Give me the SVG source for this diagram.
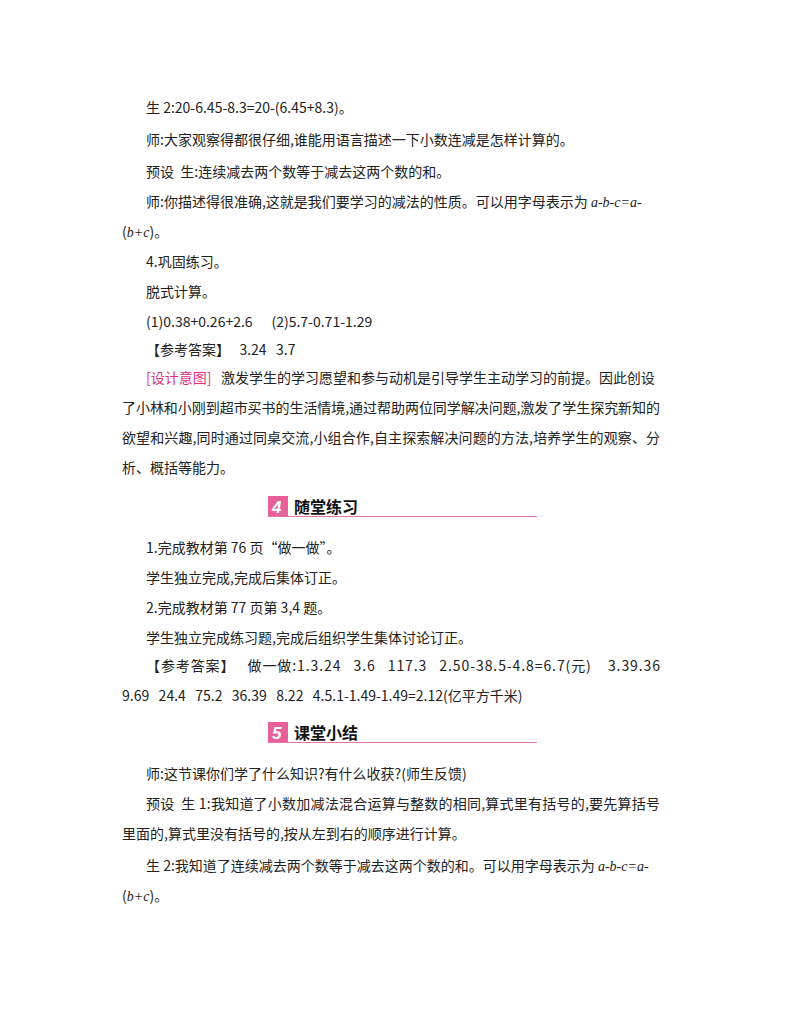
<svg xmlns="http://www.w3.org/2000/svg" width="800" height="1028" viewBox="0 0 800 1028" xml:space="preserve">
<style>
text{font-family:"Noto Sans CJK SC","Liberation Serif",serif;font-size:14px;fill:#222;white-space:pre}
.i{font-family:"Liberation Serif",serif;font-style:italic}
.p{fill:#e0307a}
.h{font-size:16px;font-weight:bold;fill:#111}
.n{font-family:"Liberation Sans",sans-serif;font-size:17px;font-weight:bold;font-style:italic;fill:#fff}
</style>
<rect width="800" height="1028" fill="#fff"/>
<g id="body1">
<text x="146" y="113">生 2:20-6.45-8.3=20-(6.45+8.3)。</text>
<text x="146" y="145">师:大家观察得都很仔细,谁能用语言描述一下小数连减是怎样计算的。</text>
<text x="146" y="177">预设  生:连续减去两个数等于减去这两个数的和。</text>
<text x="146" y="207">师:你描述得很准确,这就是我们要学习的减法的性质。可以用字母表示为 <tspan class="i">a-b-c=a-</tspan></text>
<text x="122" y="237">(<tspan class="i">b+c</tspan>)。</text>
<text x="146" y="267">4.巩固练习。</text>
<text x="146" y="297">脱式计算。</text>
<text x="146" y="327">(1)0.38+0.26+2.6      (2)5.7-0.71-1.29</text>
<text x="146" y="355">【参考答案】   3.24   3.7</text>
<text x="146" y="383"><tspan class="p">[设计意图]</tspan>   激发学生的学习愿望和参与动机是引导学生主动学习的前提。因此创设</text>
<text x="122" y="413" textLength="538">了小林和小刚到超市买书的生活情境,通过帮助两位同学解决问题,激发了学生探究新知的</text>
<text x="122" y="443" textLength="538">欲望和兴趣,同时通过同桌交流,小组合作,自主探索解决问题的方法,培养学生的观察、分</text>
<text x="122" y="473">析、概括等能力。</text>
</g>
<g id="header4">
<rect x="268" y="496" width="20" height="20" fill="#e8609a"/>
<text x="272" y="513" class="n">4</text>
<text x="294" y="513" class="h">随堂练习</text>
<line x1="268" y1="516.5" x2="537" y2="516.5" stroke="#e07aa5" stroke-width="1.2"/>
</g>
<g id="body2">
<text x="146" y="553">1.完成教材第 76 页“做一做”。</text>
<text x="146" y="583">学生独立完成,完成后集体订正。</text>
<text x="146" y="613">2.完成教材第 77 页第 3,4 题。</text>
<text x="146" y="643">学生独立完成练习题,完成后组织学生集体讨论订正。</text>
<text x="146" y="671" textLength="514">【参考答案】   做一做:1.3.24   3.6   117.3   2.50-38.5-4.8=6.7(元)    3.39.36</text>
<text x="122" y="701">9.69   24.4   75.2   36.39   8.22   4.5.1-1.49-1.49=2.12(亿平方千米)</text>
</g>
<g id="header5">
<rect x="268" y="722" width="20" height="20" fill="#e8609a"/>
<text x="272" y="739" class="n">5</text>
<text x="294" y="739" class="h">课堂小结</text>
<line x1="268" y1="742.5" x2="537" y2="742.5" stroke="#e07aa5" stroke-width="1.2"/>
</g>
<g id="body3">
<text x="146" y="779">师:这节课你们学了什么知识?有什么收获?(师生反馈)</text>
<text x="146" y="809" textLength="514">预设  生 1:我知道了小数加减法混合运算与整数的相同,算式里有括号的,要先算括号</text>
<text x="122" y="839">里面的,算式里没有括号的,按从左到右的顺序进行计算。</text>
<text x="146" y="871">生 2:我知道了连续减去两个数等于减去这两个数的和。可以用字母表示为 <tspan class="i">a-b-c=a-</tspan></text>
<text x="122" y="901">(<tspan class="i">b+c</tspan>)。</text>
</g>
</svg>
